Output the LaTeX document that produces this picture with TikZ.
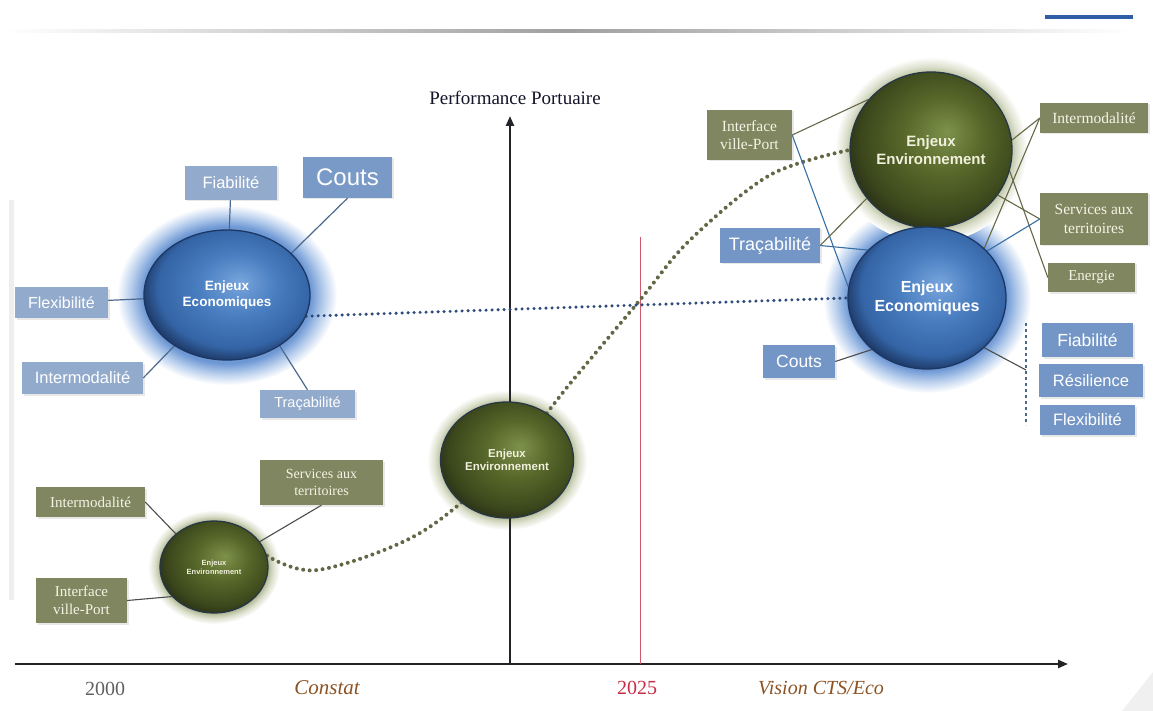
\documentclass[tikz,border=0pt]{standalone}
\usepackage{fontspec}
\setmainfont{Liberation Serif}
\setsansfont{Liberation Sans}
\usetikzlibrary{shapes.geometric,shadows,arrows.meta}
\pgfdeclarelayer{halo}
\pgfdeclarelayer{lines}
\pgfsetlayers{halo,lines,main}
\definecolor{boxBL}{RGB}{146,170,204}
\definecolor{boxBR}{RGB}{116,150,198}
\definecolor{boxOl}{RGB}{128,134,96}
\definecolor{oText}{RGB}{246,244,230}
\definecolor{olLine}{RGB}{100,104,70}
\definecolor{blLine}{RGB}{55,110,165}
\definecolor{lLine}{RGB}{75,105,140}
\definecolor{dotOl}{RGB}{100,103,70}
\definecolor{dotBl}{RGB}{45,75,125}
\definecolor{axisC}{RGB}{35,35,40}
\definecolor{redC}{RGB}{200,45,70}
\definecolor{redL}{RGB}{205,90,110}
\definecolor{brownC}{RGB}{140,82,35}
\definecolor{titleC}{RGB}{20,20,40}
\definecolor{haloB}{RGB}{110,152,212}
\definecolor{haloB2}{RGB}{185,207,237}
\definecolor{haloG}{RGB}{170,178,140}
\definecolor{haloG2}{RGB}{220,224,205}
\definecolor{eL}{RGB}{120,165,220}
\definecolor{eM}{RGB}{72,125,192}
\definecolor{eM2}{RGB}{52,100,165}
\definecolor{eD}{RGB}{28,55,100}
\definecolor{gL}{RGB}{125,145,75}
\definecolor{gM}{RGB}{88,104,42}
\definecolor{gD}{RGB}{60,72,28}
\definecolor{gK}{RGB}{38,44,22}
\definecolor{gRim}{RGB}{40,55,70}
\definecolor{envText}{RGB}{240,240,220}
\definecolor{barBlue}{RGB}{47,93,166}
\pgfdeclareradialshading{haloblue}{\pgfpoint{0bp}{0bp}}{color(0bp)=(haloB); color(19bp)=(haloB); color(22bp)=(haloB2); color(25bp)=(white); color(50bp)=(white)}
\pgfdeclareradialshading{halogreen}{\pgfpoint{0bp}{0bp}}{color(0bp)=(haloG); color(20bp)=(haloG); color(22.5bp)=(haloG2); color(25bp)=(white); color(50bp)=(white)}
\pgfdeclareradialshading{econball}{\pgfpoint{4bp}{5bp}}{color(0bp)=(eL); color(12bp)=(eM); color(23bp)=(eM2); color(28bp)=(eD); color(50bp)=(eD)}
\pgfdeclareradialshading{envball}{\pgfpoint{5bp}{6bp}}{color(0bp)=(gL); color(12bp)=(gM); color(24bp)=(gD); color(30bp)=(gK); color(50bp)=(gK)}
\newcommand\fsz[2]{\fontsize{#1}{#2}\selectfont}
\tikzset{
  bbox/.style={rectangle, fill=boxBL, text=white, font=\sffamily, inner sep=0pt, align=center,
    drop shadow={shadow xshift=1.5pt, shadow yshift=-1.5pt, opacity=0.18}},
  bboxr/.style={bbox, fill=boxBR},
  obox/.style={rectangle, fill=boxOl, text=oText, font=\rmfamily, inner sep=0pt, align=center,
    drop shadow={shadow xshift=1.5pt, shadow yshift=-1.5pt, opacity=0.18}},
  econ/.style={ellipse, shade, shading=econball, draw=eD, line width=1.3pt, text=white,
    font=\sffamily\bfseries, align=center, inner sep=0pt},
  env/.style={ellipse, shade, shading=envball, draw=gRim, line width=1.3pt, text=envText,
    font=\sffamily\bfseries, align=center, inner sep=0pt},
  olink/.style={draw=olLine, line width=1.1pt},
  blink/.style={draw=blLine, line width=1.1pt},
  llink/.style={draw=lLine, line width=1.2pt},
  dotol/.style={draw=dotOl, line width=4pt, line cap=round, dash pattern=on 0pt off 6.5pt},
  dotbl/.style={draw=dotBl, line width=3.4pt, line cap=round, dash pattern=on 0pt off 6pt},
  axisline/.style={draw=axisC, line width=2.4pt, -{Triangle[length=10pt,width=8pt]}},
}
\begin{document}
\begin{tikzpicture}[x=1pt,y=1pt]
\useasboundingbox (0,0) rectangle (1153,-711);
% decorations of the slide
\shade[left color=white, right color=white, middle color=gray!75] (5,-29.5) rectangle (1130,-32.5);
\fill[barBlue] (1045,-15) rectangle (1133,-19);
\fill[gray!13] (9,-200) rectangle (14,-600);
\fill[gray!12] (1153,-672) -- (1153,-711) -- (1122,-711) -- cycle;

% circles
\node[econ, minimum width=166pt, minimum height=130pt, font=\sffamily\bfseries\fsz{13.5}{16}] (econL) at (227,-295) {Enjeux\\Economiques};
\node[env, minimum width=108pt, minimum height=92pt, font=\sffamily\bfseries\fsz{7.5}{9}] (envS) at (214,-567) {Enjeux\\Environnement};
\node[env, minimum width=133pt, minimum height=116pt, font=\sffamily\bfseries\fsz{11.5}{13.5}] (envM) at (507,-460) {Enjeux\\Environnement};
\node[env, minimum width=162pt, minimum height=156pt, font=\sffamily\bfseries\fsz{15}{18}] (envT) at (931,-150) {Enjeux\\Environnement};
\node[econ, minimum width=158pt, minimum height=142pt, font=\sffamily\bfseries\fsz{16}{19}] (econR) at (927,-298) {Enjeux\\Economiques};

\begin{pgfonlayer}{halo}
\shade[shading=haloblue] (227,-295) ellipse [x radius=110, y radius=90];
\shade[shading=haloblue] (927,-298) ellipse [x radius=104, y radius=95];
\shade[shading=halogreen] (214,-567) ellipse [x radius=66, y radius=57];
\shade[shading=halogreen] (507,-460) ellipse [x radius=80, y radius=70];
\shade[shading=halogreen] (931,-150) ellipse [x radius=96, y radius=93];
\end{pgfonlayer}

% left blue boxes
\node[bbox, minimum width=92pt, minimum height=34pt, font=\sffamily\fsz{16.5}{19}] (lFia) at (231,-183) {Fiabilité};
\node[bbox, fill=boxBR!85!boxBL, minimum width=89pt, minimum height=41pt, font=\sffamily\fsz{24}{27}] (lCou) at (347.5,-177.5) {Couts};
\node[bbox, minimum width=93pt, minimum height=31pt, font=\sffamily\fsz{16}{19}] (lFle) at (61.5,-302.5) {Flexibilité};
\node[bbox, minimum width=121pt, minimum height=32pt, font=\sffamily\fsz{16.5}{19}] (lInt) at (82.5,-378) {Intermodalité};
\node[bbox, minimum width=95pt, minimum height=28pt, font=\sffamily\fsz{14.5}{17}] (lTra) at (307.5,-404) {Traçabilité};

% small env olive boxes
\node[obox, minimum width=109pt, minimum height=30pt, font=\rmfamily\fsz{15}{17}] (sInt) at (90.5,-502) {Intermodalité};
\node[obox, minimum width=123pt, minimum height=45pt, font=\rmfamily\fsz{14}{17}] (sSer) at (321.5,-482.5) {Services aux\\territoires};
\node[obox, minimum width=91pt, minimum height=45pt, font=\rmfamily\fsz{15}{18}] (sIfc) at (81.5,-600.5) {Interface\\ville-Port};

% right olive boxes
\node[obox, minimum width=85pt, minimum height=50pt, font=\rmfamily\fsz{15.5}{18.5}] (rIfc) at (749.5,-135) {Interface\\ville-Port};
\node[obox, minimum width=108pt, minimum height=30pt, font=\rmfamily\fsz{15.5}{18}] (rInt) at (1094,-118) {Intermodalité};
\node[obox, minimum width=108pt, minimum height=52pt, font=\rmfamily\fsz{15.5}{19}] (rSer) at (1094,-219) {Services aux\\territoires};
\node[obox, minimum width=87pt, minimum height=29pt, font=\rmfamily\fsz{15}{18}] (rEne) at (1091.5,-277.5) {Energie};

% right blue boxes
\node[bboxr, minimum width=100pt, minimum height=35pt, font=\sffamily\fsz{18}{21}] (rTra) at (770,-245.5) {Traçabilité};
\node[bboxr, minimum width=72pt, minimum height=33pt, font=\sffamily\fsz{17.5}{20}] (rCou) at (799,-361.5) {Couts};
\node[bboxr, minimum width=91pt, minimum height=34pt, font=\sffamily\fsz{17.5}{20}] (rFia) at (1087.5,-340) {Fiabilité};
\node[bboxr, minimum width=104pt, minimum height=33pt, font=\sffamily\fsz{16.5}{19}] (rRes) at (1091,-380.5) {Résilience};
\node[bboxr, minimum width=95pt, minimum height=30pt, font=\sffamily\fsz{16.5}{19}] (rFle) at (1087.5,-420) {Flexibilité};

% axis labels
\node[font=\rmfamily\fsz{19}{22}, text=titleC] (ytitle) at (515,-98) {Performance Portuaire};
\node[font=\rmfamily\fsz{20}{22}, text=gray!75!black] (y2000) at (105,-689) {2000};
\node[font=\rmfamily\itshape\fsz{21}{24}, text=brownC] (lcon) at (327,-688) {Constat};
\node[font=\rmfamily\fsz{20}{22}, text=redC] (y2025) at (637,-688) {2025};
\node[font=\rmfamily\itshape\fsz{20}{24}, text=brownC] (lvis) at (821,-688) {Vision CTS/Eco};

\coordinate (xs) at (15,-664);
\coordinate (xe) at (1068,-664);
\coordinate (yo) at (510,-664);
\coordinate (ye) at (510,-116);
\coordinate (rTop) at (640,-237);
\coordinate (rBot) at (640,-664);
\coordinate (dTop) at (1026,-323);
\coordinate (dBot) at (1026,-425);
\coordinate (brk) at (1026,-370);

\begin{pgfonlayer}{lines}
% axes
\draw[axisline] (xs) -- (xe);
\draw[axisline] (yo) -- (ye);
\draw[draw=redL, line width=1pt] (rTop) -- (rBot);
% dotted trajectories
\draw[dotol] plot[smooth, tension=0.55] coordinates {(envS.12) (318,-570) (420,-533) (envM.center) (573,-380) (640,-300) (690,-240) (770,-175) (envT.west)};
\draw[dotbl] (econL.-15) -- (econR.west);
% left economic links
\draw[llink] (lFia) -- (econL);
\draw[llink] (lCou.south) -- (econL.33);
\draw[llink] (lFle) -- (econL);
\draw[llink] (lInt.east) -- (econL.224);
\draw[llink] (lTra.north) -- (econL.-44);
% small env links
\draw[olink, draw=gray!60!black] (sInt.east) -- (envS.139);
\draw[olink, draw=gray!60!black] (sSer.south) -- (envS.29);
\draw[olink, draw=gray!60!black] (sIfc.east) -- (envS.215);
% right links
\draw[olink] (rIfc.east) -- (envT.141);
\draw[blink] (rIfc.east) -- (econR.172);
\draw[olink] (rTra.east) -- (envT.217);
\draw[blink] (rTra.east) -- (econR.141);
\draw[olink] (rInt.west) -- (envT.7);
\draw[olink] (rInt.west) -- (econR.41);
\draw[olink] (envT.-34) -- (rSer.west);
\draw[olink] (envT.-15) -- (rEne.west);
\draw[blink] (econR.38) -- (rSer.west);
\draw[olink, draw=gray!60!black] (rCou.east) -- (econR.223);
\draw[olink, draw=gray!60!black] (econR.-41) -- (brk);
\draw[draw=lLine, line width=1.2pt, dashed] (dTop) -- (dBot);
\end{pgfonlayer}
\end{tikzpicture}
\end{document}
